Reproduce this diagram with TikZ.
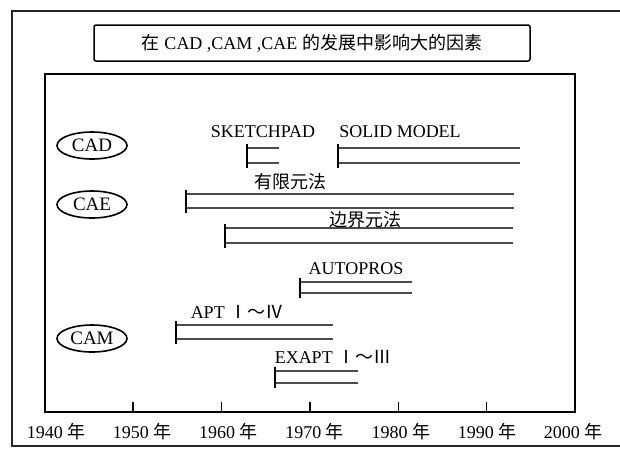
\documentclass[tikz,border=0pt]{standalone}
\usepackage{fontspec}
\setmainfont{Liberation Serif}
\newfontfamily\cjk{Noto Sans CJK SC}
\usetikzlibrary{positioning,shapes.geometric}

\begin{document}
\begin{tikzpicture}[x=1pt,y=-1pt,font=\fontsize{18}{21}\selectfont,
  frame/.style={draw=black!85,line width=1.6pt},
  oval/.style={draw,ellipse,line width=1.6pt,minimum width=70pt,minimum height=27pt,
    inner sep=0pt,font=\fontsize{19}{21}\selectfont},
  rail/.style={draw=black!70,line width=2pt},
  stopbar/.style={draw,line width=1.8pt}]
\useasboundingbox (0,0) rectangle (620,448);

% Outer frame, running off the right edge.
\draw[frame] (12,11) rectangle (632,446);

% Title box.
\node[draw,line width=1.5pt,rounded corners=2pt,minimum width=436pt,minimum height=36pt]
  (title) at (312,43) {{\cjk 在} CAD ,CAM ,CAE {\cjk 的发展中影响大的因素}};

% Inner frame with decade ticks.
\draw[line width=2pt] (44.7,74) rectangle (575,412);
\foreach \i in {1,...,5}{
  \draw[line width=1.5pt] (44.7+88.4*\i,412) -- +(0,-10);
}
\foreach \i/\yr in {0/1940,1/1950,2/1960,3/1970,4/1980,5/1990,6/2000}{
  \node (y\yr) at (56+86.2*\i,432) {\yr\ {\cjk 年}};
}

% Fields.
\node[oval] (cad) at (92,145.5) {CAD};
\node[oval] (cae) at (92,204.5) {CAE};
\node[oval] (cam) at (92,338.5) {CAM};

% Spans: name/start/end/upper rail/lower rail.
\foreach \nm/\a/\b/\t/\u in {sketch/247/279/148/163,solid/338/520/148/163,
    fem/186/514/194/208,bem/225/513/228/243,autopros/300/412/282/293,
    apt/176/333/325/339,exapt/275/358/371/383}{
  \coordinate (\nm-a) at (\a,\t);
  \coordinate (\nm-b) at (\b,\t);
  \coordinate (\nm-c) at (\a,\u);
  \coordinate (\nm-d) at (\b,\u);
  \draw[rail] (\nm-a) -- (\nm-b);
  \draw[rail] (\nm-c) -- (\nm-d);
  \draw[stopbar] ([yshift=4pt]\nm-a) -- ([yshift=-5pt]\nm-c);
}

% Span labels.
\node (sketchpad) at (263,131.5) {SKETCHPAD};
\node (solidmodel) at (400,131.5) {SOLID MODEL};
\node (femlabel) at (290,182) {\cjk 有限元法};
\node (bemlabel) at (365,220) {\cjk 边界元法};
\node (autopros) at (356,269) {AUTOPROS};
\node (aptlabel) at (237,312) {APT {\cjk Ⅰ～Ⅳ}};
\node (exaptlabel) at (333,357) {EXAPT {\cjk Ⅰ～Ⅲ}};
\end{tikzpicture}
\end{document}
